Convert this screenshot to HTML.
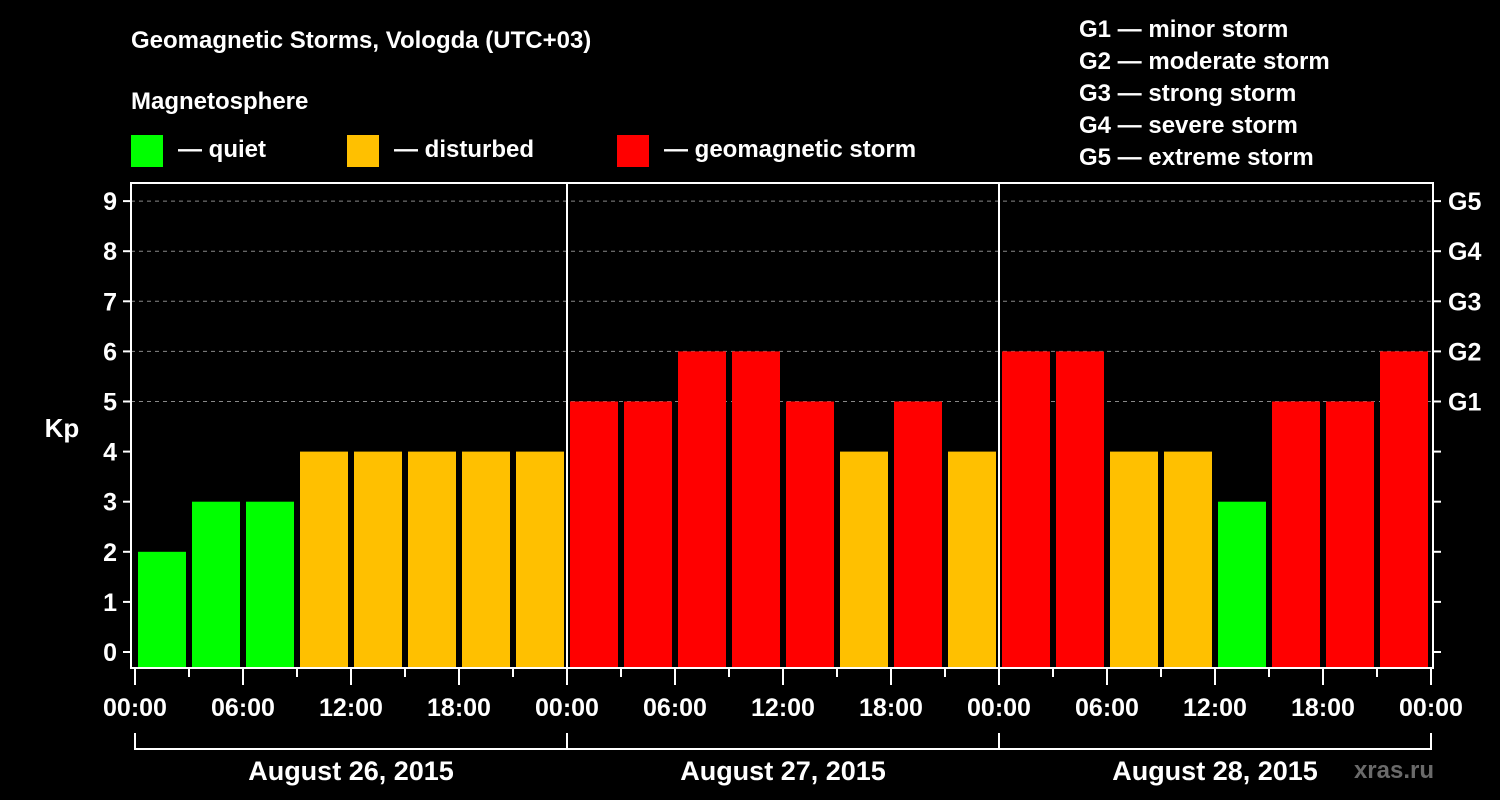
<!DOCTYPE html>
<html><head><meta charset="utf-8"><style>
html,body{margin:0;padding:0;background:#000;}
svg{display:block;font-family:"Liberation Sans",Arial,sans-serif;font-weight:bold;}
text{fill:#fff;}
</style></head><body>
<svg id="chart" width="1500" height="800" viewBox="0 0 1500 800">
<rect width="1500" height="800" fill="#000"/>
<text x="131" y="48" font-size="24">Geomagnetic Storms, Vologda (UTC+03)</text>
<text x="131" y="109" font-size="24">Magnetosphere</text>
<g><rect x="131" y="135" width="32" height="32" fill="#00ff00"/><text x="178" y="157" font-size="24">— quiet</text></g>
<g><rect x="347" y="135" width="32" height="32" fill="#ffc000"/><text x="394" y="157" font-size="24">— disturbed</text></g>
<g><rect x="617" y="135" width="32" height="32" fill="#ff0000"/><text x="664" y="157" font-size="24">— geomagnetic storm</text></g>
<g font-size="24">
<text x="1079" y="37">G1 — minor storm</text>
<text x="1079" y="69">G2 — moderate storm</text>
<text x="1079" y="101">G3 — strong storm</text>
<text x="1079" y="133">G4 — severe storm</text>
<text x="1079" y="165">G5 — extreme storm</text>
</g>
<g id="grid"></g>
<g id="bars"></g>
<g id="axes"></g>
<text x="62" y="437" font-size="26" text-anchor="middle">Kp</text>
<text x="1434" y="778" font-size="24" fill="#777" style="fill:#6a6a6a" text-anchor="end">xras.ru</text>
</svg>
<script>
const kpValues = [2,3,3,4,4,4,4,4, 5,5,6,6,5,4,5,4, 6,6,4,4,3,5,5,6];
const dayLabels = ["August 26, 2015","August 27, 2015","August 28, 2015"];
const hourLabels = ["00:00","06:00","12:00","18:00"];
const yTicks = [0,1,2,3,4,5,6,7,8,9];
const gLabels = [[5,"G1"],[6,"G2"],[7,"G3"],[8,"G4"],[9,"G5"]];

const NS="http://www.w3.org/2000/svg";
const X0=135, DAY=432, LEFT=131, RIGHT=1433, TOP=183, BOTTOM=668;
const slot=DAY/8;
const xS=i=>X0+i*slot;
const yS=v=>652-v*50.1;
function mk(tag,attrs,parent,txt){const e=document.createElementNS(NS,tag);for(const k in attrs)e.setAttribute(k,attrs[k]);if(txt!==undefined)e.textContent=txt;parent.appendChild(e);return e;}
const grid=document.getElementById('grid'),bars=document.getElementById('bars'),axes=document.getElementById('axes');
yTicks.forEach(v=>{if(v>=5){const l=mk('line',{x1:LEFT,x2:RIGHT,y1:yS(v),y2:yS(v),stroke:'#888','stroke-dasharray':'4,4','stroke-width':1},grid);

}});
kpValues.forEach((v,i)=>{
 const c=v>=5?'#ff0000':(v>=4?'#ffc000':'#00ff00');
 const r=mk('rect',{x:xS(i)+3,y:yS(v),width:slot-6,height:BOTTOM-yS(v),fill:c},bars);
 
 
});
// frame
const fr=mk('rect',{x:LEFT,y:TOP,width:RIGHT-LEFT,height:BOTTOM-TOP,fill:'none',stroke:'#fff','stroke-width':2},axes);


for(let d=1;d<3;d++){mk('line',{x1:X0+d*DAY,x2:X0+d*DAY,y1:TOP,y2:BOTTOM,stroke:'#fff','stroke-width':2},axes);}
yTicks.forEach(v=>{
 mk('line',{x1:LEFT-8,x2:LEFT,y1:yS(v),y2:yS(v),stroke:'#fff','stroke-width':2},axes);
 mk('line',{x1:RIGHT,x2:RIGHT+8,y1:yS(v),y2:yS(v),stroke:'#fff','stroke-width':2},axes);
 const t=mk('text',{x:LEFT-14,y:yS(v)+9,'font-size':25,'text-anchor':'end'},axes,String(v));
 
 
});
gLabels.forEach(g=>{const t=mk('text',{x:1448,y:yS(g[0])+9,'font-size':25},axes,g[1]);
 
 });
for(let i=0;i<=24;i++){
 const x=xS(i), major=i%2===0;
 mk('line',{x1:x,x2:x,y1:BOTTOM,y2:major?685:677,stroke:'#fff','stroke-width':2},axes);
 if(major){const t=mk('text',{x:x,y:716,'font-size':25,'text-anchor':'middle'},axes,hourLabels[(i/2)%4]);
  
  }
}
dayLabels.forEach((d,k)=>{
 const a=X0+k*DAY,b=a+DAY;
 mk('path',{d:`M${a} 733V749H${b}V733`,fill:'none',stroke:'#fff','stroke-width':2},axes);
 const t=mk('text',{x:a+DAY/2,y:780,'font-size':27,'text-anchor':'middle'},axes,d);
 
 
});
</script>
</body></html>
